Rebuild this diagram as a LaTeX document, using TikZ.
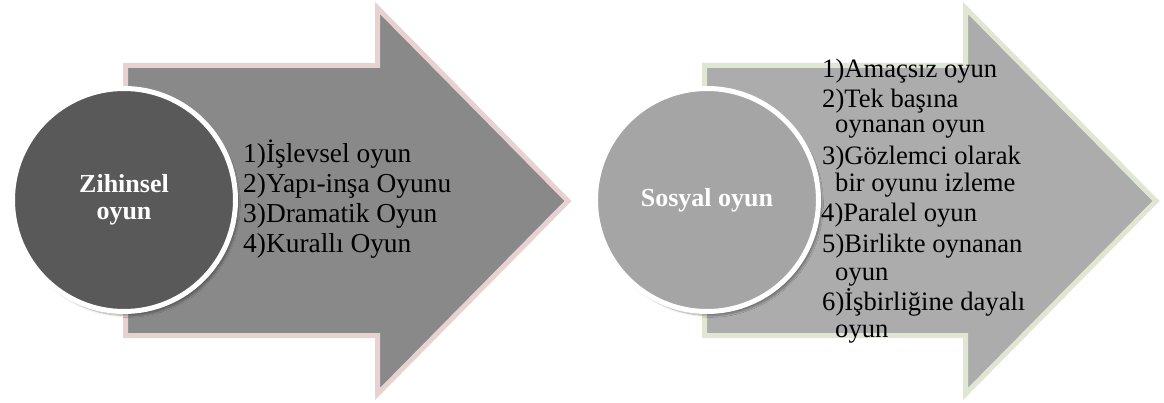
\documentclass[tikz,border=0pt]{standalone}
\usepackage{fontspec}
\setmainfont{Liberation Serif}
\usepackage{tikz}
\usetikzlibrary{shadows.blur}

\definecolor{okL}{RGB}{137,137,137}
\definecolor{okLedge}{RGB}{231,209,209}
\definecolor{okR}{RGB}{172,172,172}
\definecolor{okRedge}{RGB}{223,231,210}
\definecolor{dairL}{RGB}{89,89,89}
\definecolor{dairR}{RGB}{165,165,165}

\begin{document}
\begin{tikzpicture}[x=1pt, y=-1pt,
        ok/.style    = {line width=5pt, line join=miter},
        dair/.style  = {draw=white, circle, line width=5pt, minimum size=223pt,
                        inner sep=0pt, align=center, text=white,
                        font=\fontsize{26}{27}\selectfont\bfseries,
                        blur shadow={shadow xshift=3pt, shadow yshift=-4pt,
                        shadow blur steps=8, shadow opacity=35}},
        item/.style  = {anchor=base west, inner sep=0pt,
                        font=\fontsize{26.6}{27}\selectfont},
    ]
        \useasboundingbox (0,0) rectangle (1164,403);

        % ---- oklar ----
        \draw[ok, fill=okL, draw=okLedge] (125.5,65.5) -- (377.5,65.5) -- (377.5,8)
            -- (568,201) -- (377.5,394) -- (377.5,335.5) -- (125.5,335.5) -- cycle;
        \draw[ok, fill=okR, draw=okRedge] (704.5,65.5) -- (965.5,65.5) -- (965.5,8)
            -- (1156,201) -- (965.5,394) -- (965.5,335.5) -- (704.5,335.5) -- cycle;

        % ---- daireler ----
        \node (zc) [dair, fill=dairL] at (124,200) {Zihinsel\\oyun};
        \node (sc) [dair, fill=dairR] at (707,200) {Sosyal oyun};

        % ---- zihinsel oyun listesi ----
        \foreach \txt/\yy [count=\i] in {{1)İşlevsel oyun}/163,
                {2)Yapı-inşa Oyunu}/193, {3)Dramatik Oyun}/223,
                {4)Kurallı Oyun}/253}
            \node (z\i) [item, font=\fontsize{27.4}{28}\selectfont] at (243,\yy) {\txt};

        % ---- sosyal oyun listesi ----
        \foreach \txt/\xx/\yy [count=\i] in {{1)Amaçsız oyun}/822/78,
                {2)Tek başına}/822/108, {oynanan oyun}/835/133,
                {3)Gözlemci olarak}/822/165, {bir oyunu izleme}/835/192,
                {4)Paralel oyun}/821/222, {5)Birlikte oynanan}/822/253,
                {oyun}/835/280, {6)İşbirliğine dayalı}/822/310,
                {oyun}/835/337}
            \node (s\i) [item] at (\xx,\yy) {\txt};
    \end{tikzpicture}
\end{document}
